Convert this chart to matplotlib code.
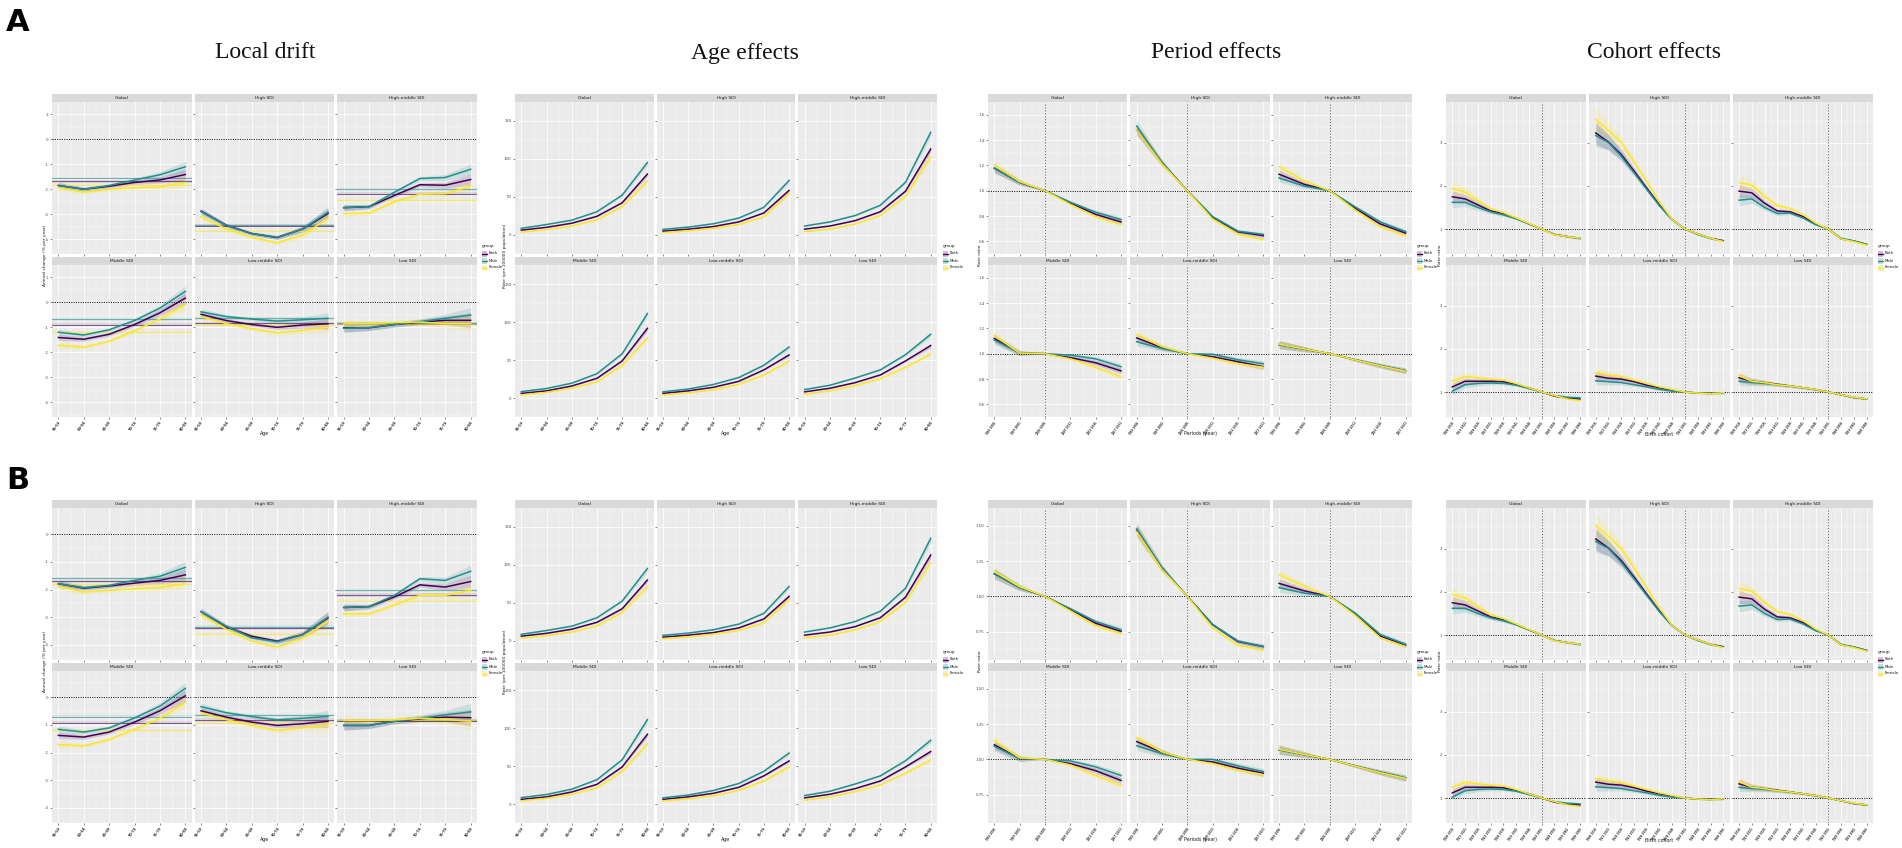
import matplotlib
matplotlib.use("Agg")
import matplotlib.pyplot as plt
import numpy as np
from matplotlib.patches import Rectangle

plt.rcParams["axes.unicode_minus"] = False
plt.rcParams["font.family"] = ["DejaVu Sans"]

# ---------------- data ----------------
regions = ["Global", "High SDI", "High-middle SDI", "Middle SDI", "Low-middle SDI", "Low SDI"]
groups = ["Both", "Male", "Female"]
colors = ["#440154", "#21908C", "#FDE725"]

age_labels = ["55-59", "60-64", "65-69", "70-74", "75-79", "80-84"]
period_labels = ["1992-1996", "1997-2001", "2002-2006", "2007-2011", "2012-2016", "2017-2021"]
cohort_labels = ["1908-1916", "1913-1921", "1918-1926", "1923-1931", "1928-1936", "1933-1941",
                 "1938-1946", "1943-1951", "1948-1956", "1953-1961", "1958-1966"]

# local drift (% per year), panel A
drift_a_both = [
    [-1.85, -2.00, -1.88, -1.73, -1.63, -1.41],
    [-2.88, -3.45, -3.78, -3.94, -3.60, -2.98],
    [-2.74, -2.70, -2.25, -1.82, -1.84, -1.61],
    [-1.41, -1.48, -1.28, -0.89, -0.42, 0.17],
    [-0.48, -0.73, -0.89, -1.00, -0.91, -0.86],
    [-1.02, -1.02, -0.89, -0.79, -0.72, -0.72],
]
drift_a_male = [
    [-1.85, -2.00, -1.85, -1.63, -1.42, -1.10],
    [-2.90, -3.45, -3.78, -3.93, -3.60, -2.92],
    [-2.74, -2.70, -2.12, -1.57, -1.53, -1.20],
    [-1.20, -1.31, -1.10, -0.73, -0.23, 0.44],
    [-0.38, -0.57, -0.67, -0.75, -0.70, -0.64],
    [-1.04, -1.01, -0.89, -0.77, -0.64, -0.51],
]
drift_a_female = [
    [-1.94, -2.12, -2.00, -1.94, -1.91, -1.73],
    [-3.10, -3.60, -3.93, -4.15, -3.84, -3.17],
    [-2.98, -2.96, -2.50, -2.20, -2.18, -1.88],
    [-1.72, -1.80, -1.56, -1.14, -0.67, -0.09],
    [-0.57, -0.85, -1.06, -1.22, -1.12, -1.00],
    [-0.85, -0.85, -0.81, -0.79, -0.85, -0.85],
]
# net drift per region: both, male, female
drift_a_net = [
    [-1.68, -1.55, -1.82],
    [-3.47, -3.44, -3.67],
    [-2.18, -2.00, -2.43],
    [-0.90, -0.68, -1.18],
    [-0.83, -0.64, -0.90],
    [-0.86, -0.84, -0.85],
]

# local drift, panel B
drift_b_both = [
    [-1.79, -1.95, -1.87, -1.77, -1.67, -1.47],
    [-2.80, -3.35, -3.69, -3.87, -3.63, -3.03],
    [-2.65, -2.62, -2.27, -1.83, -1.91, -1.71],
    [-1.38, -1.44, -1.26, -0.90, -0.49, 0.05],
    [-0.49, -0.72, -0.90, -1.02, -0.96, -0.87],
    [-1.02, -1.02, -0.87, -0.78, -0.72, -0.74],
]
drift_b_male = [
    [-1.79, -1.93, -1.85, -1.67, -1.52, -1.20],
    [-2.80, -3.33, -3.75, -3.89, -3.63, -3.00],
    [-2.65, -2.62, -2.21, -1.61, -1.67, -1.34],
    [-1.16, -1.26, -1.11, -0.75, -0.32, 0.32],
    [-0.34, -0.56, -0.70, -0.82, -0.76, -0.69],
    [-1.02, -1.02, -0.87, -0.76, -0.64, -0.53],
]
drift_b_female = [
    [-1.89, -2.09, -2.03, -1.97, -1.93, -1.79],
    [-2.92, -3.44, -3.87, -4.08, -3.75, -3.16],
    [-2.88, -2.88, -2.56, -2.21, -2.21, -2.03],
    [-1.71, -1.76, -1.53, -1.16, -0.76, -0.19],
    [-0.57, -0.81, -1.02, -1.20, -1.10, -1.02],
    [-0.84, -0.84, -0.82, -0.76, -0.80, -0.87],
]
drift_b_net = [
    [-1.70, -1.60, -1.80],
    [-3.40, -3.35, -3.60],
    [-2.20, -2.03, -2.40],
    [-0.92, -0.70, -1.20],
    [-0.82, -0.65, -0.92],
    [-0.85, -0.84, -0.84],
]
drift_ci = [0.12, 0.08, 0.07, 0.08, 0.12, 0.22]

# age effects (rate per 100,000), same in A and B
age_both = [
    [6.4, 10.1, 15.5, 24.6, 42.4, 80.1],
    [5.1, 7.7, 11.1, 17.2, 29.0, 58.6],
    [7.7, 11.8, 18.9, 30.6, 57.6, 113.0],
    [6.1, 9.4, 15.8, 25.9, 48.8, 91.6],
    [6.1, 9.4, 14.1, 21.9, 37.0, 56.6],
    [8.1, 12.8, 20.2, 30.3, 48.8, 69.0],
]
age_male = [
    [8.8, 13.8, 19.5, 30.6, 52.5, 95.3],
    [7.4, 10.4, 14.8, 22.2, 36.4, 71.7],
    [11.8, 17.2, 25.6, 39.1, 69.4, 135.0],
    [8.4, 12.5, 19.5, 32.0, 58.2, 111.0],
    [8.1, 11.8, 17.8, 26.9, 43.1, 67.0],
    [11.1, 16.8, 26.3, 37.0, 57.0, 83.8],
]
age_female = [
    [3.7, 7.1, 11.8, 19.9, 37.4, 71.0],
    [3.0, 5.4, 8.8, 13.8, 23.9, 54.2],
    [4.4, 7.7, 14.5, 25.6, 50.8, 103.0],
    [4.0, 7.4, 12.8, 21.2, 42.8, 79.1],
    [4.0, 6.7, 10.8, 17.8, 30.3, 48.8],
    [5.0, 9.4, 16.2, 25.3, 40.4, 57.9],
]
age_ci = [0.04, 0.03, 0.03, 0.03, 0.03, 0.04]

# period effects (rate ratio)
period_a_both = [
    [1.177, 1.065, 1.0, 0.902, 0.813, 0.753],
    [1.48, 1.22, 1.0, 0.79, 0.675, 0.645],
    [1.13, 1.05, 1.0, 0.861, 0.737, 0.665],
    [1.12, 1.005, 1.0, 0.969, 0.928, 0.864],
    [1.124, 1.048, 1.0, 0.976, 0.936, 0.897],
    [1.072, 1.036, 1.0, 0.952, 0.905, 0.864],
]
period_a_male = [
    [1.177, 1.065, 1.0, 0.909, 0.83, 0.772],
    [1.51, 1.22, 1.0, 0.795, 0.68, 0.655],
    [1.10, 1.036, 1.0, 0.873, 0.753, 0.677],
    [1.107, 1.005, 1.0, 0.988, 0.959, 0.897],
    [1.095, 1.04, 1.0, 0.995, 0.952, 0.921],
    [1.07, 1.035, 1.0, 0.953, 0.907, 0.866],
]
period_a_female = [
    [1.20, 1.072, 1.0, 0.892, 0.794, 0.734],
    [1.48, 1.21, 1.0, 0.775, 0.655, 0.615],
    [1.19, 1.077, 1.0, 0.849, 0.713, 0.645],
    [1.143, 1.005, 1.0, 0.959, 0.893, 0.816],
    [1.15, 1.055, 1.0, 0.964, 0.921, 0.893],
    [1.075, 1.037, 1.0, 0.951, 0.904, 0.862],
]
period_b_both = [
    [1.16, 1.062, 1.0, 0.908, 0.81, 0.753],
    [1.465, 1.2, 1.0, 0.8, 0.68, 0.645],
    [1.092, 1.039, 1.0, 0.879, 0.719, 0.654],
    [1.103, 1.005, 1.0, 0.97, 0.92, 0.851],
    [1.126, 1.05, 1.0, 0.982, 0.938, 0.902],
    [1.069, 1.034, 1.0, 0.954, 0.908, 0.867],
]
period_b_male = [
    [1.16, 1.062, 1.0, 0.913, 0.822, 0.764],
    [1.48, 1.2, 1.0, 0.8, 0.684, 0.645],
    [1.062, 1.023, 1.0, 0.883, 0.73, 0.661],
    [1.092, 1.005, 1.0, 0.989, 0.947, 0.886],
    [1.096, 1.041, 1.0, 1.0, 0.954, 0.913],
    [1.067, 1.033, 1.0, 0.955, 0.91, 0.869],
]
period_b_female = [
    [1.176, 1.069, 1.0, 0.897, 0.792, 0.737],
    [1.458, 1.188, 1.0, 0.776, 0.654, 0.62],
    [1.153, 1.073, 1.0, 0.867, 0.707, 0.645],
    [1.133, 1.011, 1.0, 0.961, 0.886, 0.817],
    [1.153, 1.053, 1.0, 0.97, 0.924, 0.892],
    [1.071, 1.035, 1.0, 0.953, 0.906, 0.865],
]
period_ci = [0.03, 0.02, 0.0, 0.012, 0.02, 0.025]

# cohort effects (rate ratio), same in A and B
cohort_both = [
    [1.75, 1.70, 1.56, 1.42, 1.36, 1.25, 1.12, 1.0, 0.873, 0.825, 0.786],
    [3.23, 3.02, 2.73, 2.35, 1.95, 1.56, 1.22, 1.0, 0.889, 0.786, 0.73],
    [1.88, 1.84, 1.60, 1.42, 1.40, 1.29, 1.12, 1.0, 0.77, 0.722, 0.643],
    [1.12, 1.25, 1.25, 1.25, 1.24, 1.17, 1.10, 1.0, 0.905, 0.857, 0.84],
    [1.37, 1.32, 1.30, 1.24, 1.16, 1.10, 1.04, 1.0, 0.976, 0.968, 0.984],
    [1.33, 1.25, 1.22, 1.18, 1.14, 1.10, 1.06, 1.0, 0.937, 0.873, 0.84],
]
cohort_male = [
    [1.62, 1.62, 1.50, 1.40, 1.33, 1.24, 1.12, 1.0, 0.873, 0.825, 0.778],
    [3.17, 3.01, 2.69, 2.31, 1.92, 1.54, 1.21, 1.0, 0.873, 0.778, 0.722],
    [1.67, 1.70, 1.50, 1.36, 1.37, 1.26, 1.10, 1.0, 0.786, 0.722, 0.643],
    [1.02, 1.17, 1.20, 1.21, 1.20, 1.16, 1.08, 1.0, 0.92, 0.88, 0.865],
    [1.26, 1.24, 1.22, 1.17, 1.12, 1.06, 1.02, 1.0, 0.976, 0.968, 0.984],
    [1.25, 1.22, 1.20, 1.17, 1.14, 1.10, 1.05, 1.0, 0.937, 0.873, 0.84],
]
cohort_female = [
    [1.94, 1.86, 1.66, 1.47, 1.38, 1.26, 1.13, 1.0, 0.865, 0.825, 0.786],
    [3.54, 3.29, 3.01, 2.56, 2.10, 1.63, 1.22, 1.0, 0.889, 0.786, 0.706],
    [2.08, 2.02, 1.76, 1.54, 1.48, 1.34, 1.14, 1.0, 0.77, 0.706, 0.627],
    [1.25, 1.36, 1.33, 1.30, 1.28, 1.20, 1.10, 1.0, 0.92, 0.84, 0.80],
    [1.45, 1.40, 1.36, 1.28, 1.20, 1.12, 1.06, 1.0, 0.976, 0.96, 0.984],
    [1.38, 1.25, 1.22, 1.17, 1.14, 1.10, 1.06, 1.0, 0.937, 0.88, 0.84],
]
cohort_ci = [0.08, 0.06, 0.045, 0.035, 0.03, 0.022, 0.012, 0.0, 0.012, 0.02, 0.025]

# ---------------- layout helpers ----------------
W, H = 1902, 848
fig = plt.figure(figsize=(W / 100, H / 100), dpi=100)


def px_axes(l, t, r, b):
    return fig.add_axes([l / W, 1 - b / H, (r - l) / W, (b - t) / H])


def draw_grid(box, xlabels, both, male, female, ci, ci_abs, ylim, yticks, yticklabels,
              ylabel, xlabel, ylabel_x, legend_x, ref_x=None, ref_y=None, net=None):
    left, top, right, bottom = box
    strip, gap = 8, 3
    pw = (right - left - 2 * gap) / 3
    ph = (bottom - top - gap - 2 * strip) / 2
    n = len(xlabels)
    x = np.arange(n)
    step = yticks[1] - yticks[0]
    yminor = np.arange(yticks[0] - step / 2, yticks[-1] + step, step)
    xsize = 2.5 if len(xlabels[0]) <= 5 else 1.9
    for i, reg in enumerate(regions):
        row, col = divmod(i, 3)
        x0 = left + col * (pw + gap)
        y0 = top + row * (ph + strip + gap)
        sax = px_axes(x0, y0, x0 + pw, y0 + strip)
        sax.set_facecolor("#D9D9D9")
        sax.set_xticks([])
        sax.set_yticks([])
        for s in sax.spines.values():
            s.set_visible(False)
        sax.text(0.5, 0.45, reg, ha="center", va="center", fontsize=3.2, color="#1A1A1A",
                 transform=sax.transAxes)

        ax = px_axes(x0, y0 + strip, x0 + pw, y0 + strip + ph)
        ax.set_facecolor("#EBEBEB")
        for s in ax.spines.values():
            s.set_visible(False)
        ax.set_xlim(-(n - 1) * 0.05, (n - 1) * 1.05)
        ax.set_ylim(*ylim)
        ax.set_xticks(x)
        ax.set_xticks(x[:-1] + 0.5, minor=True)
        ax.set_yticks(yticks)
        ax.set_yticks(yminor, minor=True)
        ax.grid(True, which="major", color="white", lw=0.55)
        ax.grid(True, which="minor", color="white", lw=0.25)
        ax.set_axisbelow(True)
        ax.tick_params(which="major", length=1.5, width=0.4, color="#333333",
                       labelsize=2.8, labelcolor="#4D4D4D", pad=1)
        ax.tick_params(which="minor", length=0)
        if col == 0:
            ax.set_yticklabels(yticklabels)
        else:
            ax.set_yticklabels([])
        if row == 1:
            ax.set_xticklabels(xlabels, rotation=55, ha="right", rotation_mode="anchor",
                               fontsize=xsize, color="#333333", fontweight="bold")
        else:
            ax.set_xticklabels([])

        series = [both[i], male[i], female[i]]
        for k, vals in enumerate(series):
            v = np.array(vals)
            hw = np.array(ci) if ci_abs else v * np.array(ci)
            if reg == "Low SDI" and ci_abs:
                hw = hw * 1.4
            ax.fill_between(x, v - hw, v + hw, color=colors[k], alpha=0.16, lw=0)
        if net is not None:
            for k in range(3):
                nv = net[i][k]
                ax.axhspan(nv - 0.06, nv + 0.06, color=colors[k], alpha=0.1, lw=0)
                ax.axhline(nv, color=colors[k], lw=0.5, alpha=0.85)
        if ref_y is not None:
            ax.axhline(ref_y, color="#222222", lw=0.7, ls=(0, (1.2, 1.2)))
        if ref_x is not None:
            ax.axvline(ref_x, color="#555555", lw=0.6, ls=(0, (1.5, 2.0)))
        for k, vals in enumerate(series):
            ax.plot(x, vals, color=colors[k], lw=1.1)

    mid = (top + bottom) / 2
    fig.text(ylabel_x / W, 1 - mid / H, ylabel, rotation=90, ha="center", va="center",
             fontsize=3.2, color="#1A1A1A")
    fig.text((left + right) / 2 / W, 1 - (bottom + 17) / H, xlabel, ha="center", va="center",
             fontsize=3.4, color="#1A1A1A")

    # legend
    lax = px_axes(legend_x, mid - 13, legend_x + 24, mid + 16)
    lax.set_xlim(0, 24)
    lax.set_ylim(29, 0)
    lax.axis("off")
    lax.text(0, 4, "group", fontsize=3.2, va="center", color="#1A1A1A")
    for k, g in enumerate(groups):
        yy = 11 + 7 * k
        lax.add_patch(Rectangle((0, yy - 3), 5, 6, facecolor="#F2F2F2", edgecolor="none"))
        lax.add_patch(Rectangle((0, yy - 3), 5, 6, facecolor=colors[k], alpha=0.2, edgecolor="none"))
        lax.plot([0.4, 4.6], [yy, yy], color=colors[k], lw=1.0)
        lax.text(7, yy, g, fontsize=2.8, va="center", color="#1A1A1A")


# ---------------- rows ----------------
rows = [
    (94, 417, drift_a_both, drift_a_male, drift_a_female, drift_a_net, (-4.6, 1.05),
     [-4, -3, -2, -1, 0, 1], period_a_both, period_a_male, period_a_female,
     (0.54, 1.62), [0.6, 0.8, 1.0, 1.2, 1.4, 1.6], ["0.6", "0.8", "1.0", "1.2", "1.4", "1.6"]),
    (500, 823, drift_b_both, drift_b_male, drift_b_female, drift_b_net, (-4.55, 0.95),
     [-4, -3, -2, -1, 0], period_b_both, period_b_male, period_b_female,
     (0.55, 1.58), [0.75, 1.0, 1.25, 1.5], ["0.75", "1.00", "1.25", "1.50"]),
]

for (top, bottom, d_both, d_male, d_female, d_net, d_lim, d_ticks,
     p_both, p_male, p_female, p_lim, p_ticks, p_labels) in rows:
    draw_grid((52, top, 477, bottom), age_labels, d_both, d_male, d_female, drift_ci, True,
              d_lim, d_ticks, [str(t) for t in d_ticks], "Annual change (% per year)", "Age",
              45, 482, ref_y=0, net=d_net)
    draw_grid((515, top, 937, bottom), age_labels, age_both, age_male, age_female, age_ci, False,
              (-4, 150.5), [0, 50, 100, 150], ["0", "50", "100", "150"],
              "Rate (per 100000 population)", "Age", 505, 943)
    draw_grid((988, top, 1412, bottom), period_labels, p_both, p_male, p_female, period_ci, False,
              p_lim, p_ticks, p_labels, "Rate ratio", "Periods (year)", 980, 1417,
              ref_x=2, ref_y=1.0)
    draw_grid((1446, top, 1873, bottom), cohort_labels, cohort_both, cohort_male, cohort_female,
              cohort_ci, False, (0.42, 3.95), [1, 2, 3], ["1", "2", "3"],
              "Rate ratio", "Birth cohort", 1440, 1878, ref_x=7, ref_y=1.0)

# titles
titles = ["Local drift", "Age effects", "Period effects", "Cohort effects"]
title_x = [265, 745, 1216, 1654]
for t, tx in zip(titles, title_x):
    fig.text(tx / W, 1 - 53 / H, t, ha="center", va="center", fontsize=17,
             family="Liberation Serif", color="#111111")

fig.text(6 / W, 1 - 8 / H, "A", ha="left", va="top", fontsize=22, fontweight="bold")
fig.text(6 / W, 1 - 466 / H, "B", ha="left", va="top", fontsize=22, fontweight="bold")

fig.savefig("out.png", dpi=100)
